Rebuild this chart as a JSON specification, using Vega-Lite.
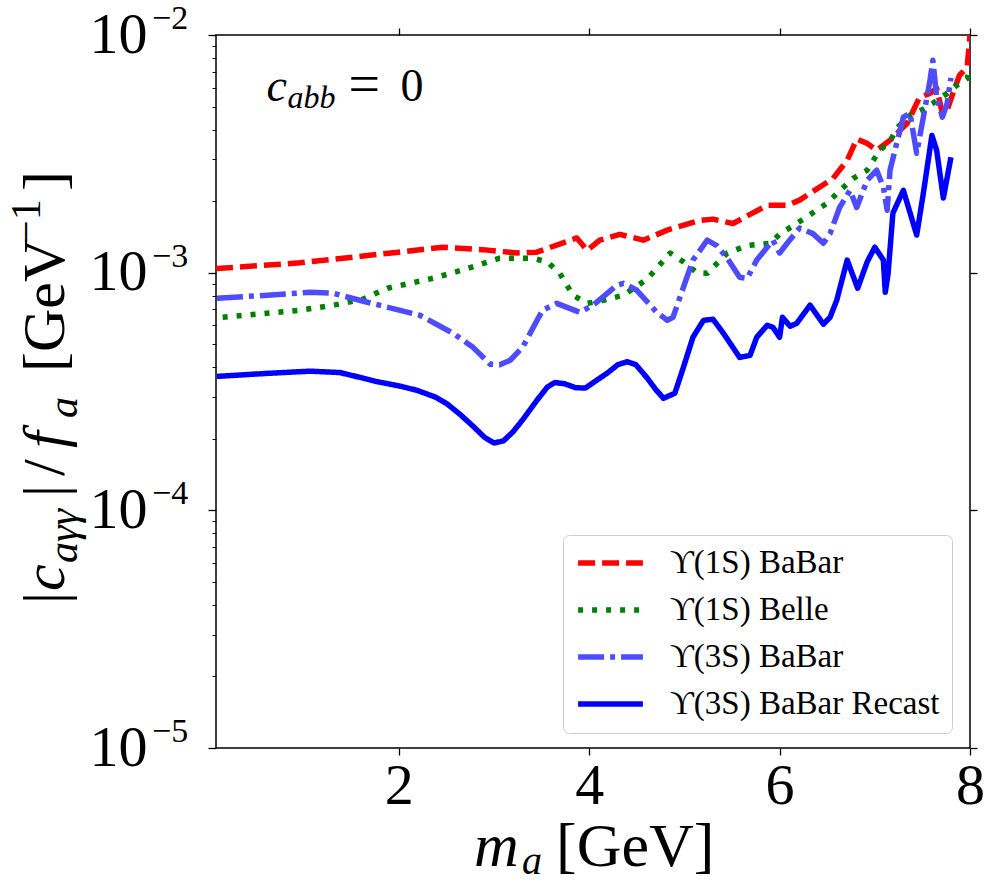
{
  "$schema": "https://vega.github.io/schema/vega-lite/v6.json",
  "width": 754,
  "height": 713,
  "autosize": {"type": "none"},
  "padding": {"left": 216, "top": 35, "right": 25, "bottom": 144},
  "background": "white",
  "config": {
    "font": "Liberation Serif",
    "view": {"stroke": "black", "strokeWidth": 1.5},
    "axis": {"grid": false, "domain": false, "tickColor": "black", "labelColor": "black", "tickWidth": 1.3}
  },
  "datasets": {
    "limits": [
      {"series": "ϒ(1S) BaBar", "m": 0.08, "c": 0.00104},
      {"series": "ϒ(1S) BaBar", "m": 0.96, "c": 0.00110},
      {"series": "ϒ(1S) BaBar", "m": 1.67, "c": 0.00118},
      {"series": "ϒ(1S) BaBar", "m": 2.0, "c": 0.00122},
      {"series": "ϒ(1S) BaBar", "m": 2.46, "c": 0.00128},
      {"series": "ϒ(1S) BaBar", "m": 2.88, "c": 0.00125},
      {"series": "ϒ(1S) BaBar", "m": 3.24, "c": 0.00121},
      {"series": "ϒ(1S) BaBar", "m": 3.45, "c": 0.00122},
      {"series": "ϒ(1S) BaBar", "m": 3.87, "c": 0.00140},
      {"series": "ϒ(1S) BaBar", "m": 3.98, "c": 0.00124},
      {"series": "ϒ(1S) BaBar", "m": 4.11, "c": 0.00137},
      {"series": "ϒ(1S) BaBar", "m": 4.32, "c": 0.00145},
      {"series": "ϒ(1S) BaBar", "m": 4.57, "c": 0.00137},
      {"series": "ϒ(1S) BaBar", "m": 4.82, "c": 0.00151},
      {"series": "ϒ(1S) BaBar", "m": 5.16, "c": 0.00166},
      {"series": "ϒ(1S) BaBar", "m": 5.30, "c": 0.00168},
      {"series": "ϒ(1S) BaBar", "m": 5.51, "c": 0.00161},
      {"series": "ϒ(1S) BaBar", "m": 5.87, "c": 0.00192},
      {"series": "ϒ(1S) BaBar", "m": 6.08, "c": 0.00192},
      {"series": "ϒ(1S) BaBar", "m": 6.21, "c": 0.00202},
      {"series": "ϒ(1S) BaBar", "m": 6.56, "c": 0.00249},
      {"series": "ϒ(1S) BaBar", "m": 6.71, "c": 0.00297},
      {"series": "ϒ(1S) BaBar", "m": 6.81, "c": 0.00365},
      {"series": "ϒ(1S) BaBar", "m": 6.92, "c": 0.00350},
      {"series": "ϒ(1S) BaBar", "m": 7.02, "c": 0.00327},
      {"series": "ϒ(1S) BaBar", "m": 7.16, "c": 0.00361},
      {"series": "ϒ(1S) BaBar", "m": 7.34, "c": 0.00425},
      {"series": "ϒ(1S) BaBar", "m": 7.47, "c": 0.00547},
      {"series": "ϒ(1S) BaBar", "m": 7.58, "c": 0.00568},
      {"series": "ϒ(1S) BaBar", "m": 7.65, "c": 0.00597},
      {"series": "ϒ(1S) BaBar", "m": 7.71, "c": 0.00468},
      {"series": "ϒ(1S) BaBar", "m": 7.76, "c": 0.00482},
      {"series": "ϒ(1S) BaBar", "m": 7.82, "c": 0.00568},
      {"series": "ϒ(1S) BaBar", "m": 7.89, "c": 0.00677},
      {"series": "ϒ(1S) BaBar", "m": 7.97, "c": 0.00731},
      {"series": "ϒ(1S) BaBar", "m": 8.0, "c": 0.0100},

      {"series": "ϒ(1S) Belle", "m": 0.15, "c": 0.000649},
      {"series": "ϒ(1S) Belle", "m": 0.96, "c": 0.000695},
      {"series": "ϒ(1S) Belle", "m": 1.31, "c": 0.000729},
      {"series": "ϒ(1S) Belle", "m": 1.62, "c": 0.000773},
      {"series": "ϒ(1S) Belle", "m": 1.88, "c": 0.000860},
      {"series": "ϒ(1S) Belle", "m": 2.36, "c": 0.000947},
      {"series": "ϒ(1S) Belle", "m": 2.72, "c": 0.00104},
      {"series": "ϒ(1S) Belle", "m": 3.06, "c": 0.00115},
      {"series": "ϒ(1S) Belle", "m": 3.41, "c": 0.00115},
      {"series": "ϒ(1S) Belle", "m": 3.56, "c": 0.00111},
      {"series": "ϒ(1S) Belle", "m": 3.69, "c": 0.000994},
      {"series": "ϒ(1S) Belle", "m": 3.83, "c": 0.000804},
      {"series": "ϒ(1S) Belle", "m": 3.98, "c": 0.000743},
      {"series": "ϒ(1S) Belle", "m": 4.15, "c": 0.000765},
      {"series": "ϒ(1S) Belle", "m": 4.36, "c": 0.000804},
      {"series": "ϒ(1S) Belle", "m": 4.61, "c": 0.000940},
      {"series": "ϒ(1S) Belle", "m": 4.85, "c": 0.00121},
      {"series": "ϒ(1S) Belle", "m": 4.99, "c": 0.00111},
      {"series": "ϒ(1S) Belle", "m": 5.13, "c": 0.00100},
      {"series": "ϒ(1S) Belle", "m": 5.24, "c": 0.000994},
      {"series": "ϒ(1S) Belle", "m": 5.45, "c": 0.00121},
      {"series": "ϒ(1S) Belle", "m": 5.66, "c": 0.00130},
      {"series": "ϒ(1S) Belle", "m": 5.90, "c": 0.00133},
      {"series": "ϒ(1S) Belle", "m": 6.00, "c": 0.00145},
      {"series": "ϒ(1S) Belle", "m": 6.25, "c": 0.00168},
      {"series": "ϒ(1S) Belle", "m": 6.50, "c": 0.00196},
      {"series": "ϒ(1S) Belle", "m": 6.60, "c": 0.00215},
      {"series": "ϒ(1S) Belle", "m": 6.77, "c": 0.00249},
      {"series": "ϒ(1S) Belle", "m": 6.92, "c": 0.00270},
      {"series": "ϒ(1S) Belle", "m": 7.05, "c": 0.00327},
      {"series": "ϒ(1S) Belle", "m": 7.16, "c": 0.00357},
      {"series": "ϒ(1S) Belle", "m": 7.23, "c": 0.00405},
      {"series": "ϒ(1S) Belle", "m": 7.37, "c": 0.00459},
      {"series": "ϒ(1S) Belle", "m": 7.51, "c": 0.00487},
      {"series": "ϒ(1S) Belle", "m": 7.61, "c": 0.00516},
      {"series": "ϒ(1S) Belle", "m": 7.76, "c": 0.00568},
      {"series": "ϒ(1S) Belle", "m": 7.86, "c": 0.00614},
      {"series": "ϒ(1S) Belle", "m": 7.97, "c": 0.00657},
      {"series": "ϒ(1S) Belle", "m": 8.0, "c": 0.00720},

      {"series": "ϒ(3S) BaBar", "m": 0.09, "c": 0.000780},
      {"series": "ϒ(3S) BaBar", "m": 0.62, "c": 0.000804},
      {"series": "ϒ(3S) BaBar", "m": 1.07, "c": 0.000827},
      {"series": "ϒ(3S) BaBar", "m": 1.31, "c": 0.000819},
      {"series": "ϒ(3S) BaBar", "m": 1.67, "c": 0.000751},
      {"series": "ϒ(3S) BaBar", "m": 2.22, "c": 0.000662},
      {"series": "ϒ(3S) BaBar", "m": 2.57, "c": 0.000556},
      {"series": "ϒ(3S) BaBar", "m": 2.78, "c": 0.000485},
      {"series": "ϒ(3S) BaBar", "m": 2.96, "c": 0.000412},
      {"series": "ϒ(3S) BaBar", "m": 3.06, "c": 0.000410},
      {"series": "ϒ(3S) BaBar", "m": 3.17, "c": 0.000428},
      {"series": "ϒ(3S) BaBar", "m": 3.30, "c": 0.000485},
      {"series": "ϒ(3S) BaBar", "m": 3.51, "c": 0.000695},
      {"series": "ϒ(3S) BaBar", "m": 3.66, "c": 0.000743},
      {"series": "ϒ(3S) BaBar", "m": 3.90, "c": 0.000681},
      {"series": "ϒ(3S) BaBar", "m": 4.04, "c": 0.000729},
      {"series": "ϒ(3S) BaBar", "m": 4.29, "c": 0.000885},
      {"series": "ϒ(3S) BaBar", "m": 4.36, "c": 0.000902},
      {"series": "ϒ(3S) BaBar", "m": 4.50, "c": 0.000843},
      {"series": "ϒ(3S) BaBar", "m": 4.71, "c": 0.000681},
      {"series": "ϒ(3S) BaBar", "m": 4.82, "c": 0.000631},
      {"series": "ϒ(3S) BaBar", "m": 4.88, "c": 0.000649},
      {"series": "ϒ(3S) BaBar", "m": 4.99, "c": 0.000868},
      {"series": "ϒ(3S) BaBar", "m": 5.09, "c": 0.00113},
      {"series": "ϒ(3S) BaBar", "m": 5.24, "c": 0.00137},
      {"series": "ϒ(3S) BaBar", "m": 5.34, "c": 0.00130},
      {"series": "ϒ(3S) BaBar", "m": 5.45, "c": 0.00115},
      {"series": "ϒ(3S) BaBar", "m": 5.58, "c": 0.000957},
      {"series": "ϒ(3S) BaBar", "m": 5.66, "c": 0.000947},
      {"series": "ϒ(3S) BaBar", "m": 5.76, "c": 0.00113},
      {"series": "ϒ(3S) BaBar", "m": 5.93, "c": 0.00137},
      {"series": "ϒ(3S) BaBar", "m": 6.00, "c": 0.00121},
      {"series": "ϒ(3S) BaBar", "m": 6.08, "c": 0.00133},
      {"series": "ϒ(3S) BaBar", "m": 6.21, "c": 0.00154},
      {"series": "ϒ(3S) BaBar", "m": 6.35, "c": 0.00146},
      {"series": "ϒ(3S) BaBar", "m": 6.46, "c": 0.00133},
      {"series": "ϒ(3S) BaBar", "m": 6.53, "c": 0.00146},
      {"series": "ϒ(3S) BaBar", "m": 6.63, "c": 0.00188},
      {"series": "ϒ(3S) BaBar", "m": 6.74, "c": 0.00222},
      {"series": "ϒ(3S) BaBar", "m": 6.81, "c": 0.00188},
      {"series": "ϒ(3S) BaBar", "m": 6.92, "c": 0.00245},
      {"series": "ϒ(3S) BaBar", "m": 7.02, "c": 0.00270},
      {"series": "ϒ(3S) BaBar", "m": 7.09, "c": 0.00229},
      {"series": "ϒ(3S) BaBar", "m": 7.13, "c": 0.00183},
      {"series": "ϒ(3S) BaBar", "m": 7.16, "c": 0.00270},
      {"series": "ϒ(3S) BaBar", "m": 7.23, "c": 0.00350},
      {"series": "ϒ(3S) BaBar", "m": 7.30, "c": 0.00451},
      {"series": "ϒ(3S) BaBar", "m": 7.37, "c": 0.00468},
      {"series": "ϒ(3S) BaBar", "m": 7.44, "c": 0.00318},
      {"series": "ϒ(3S) BaBar", "m": 7.51, "c": 0.00451},
      {"series": "ϒ(3S) BaBar", "m": 7.58, "c": 0.00645},
      {"series": "ϒ(3S) BaBar", "m": 7.61, "c": 0.00783},
      {"series": "ϒ(3S) BaBar", "m": 7.65, "c": 0.00547},
      {"series": "ϒ(3S) BaBar", "m": 7.71, "c": 0.00451},
      {"series": "ϒ(3S) BaBar", "m": 7.76, "c": 0.00516},
      {"series": "ϒ(3S) BaBar", "m": 7.80, "c": 0.00660},

      {"series": "ϒ(3S) BaBar Recast", "m": 0.09, "c": 0.000366},
      {"series": "ϒ(3S) BaBar Recast", "m": 0.62, "c": 0.000377},
      {"series": "ϒ(3S) BaBar Recast", "m": 1.07, "c": 0.000385},
      {"series": "ϒ(3S) BaBar Recast", "m": 1.38, "c": 0.000380},
      {"series": "ϒ(3S) BaBar Recast", "m": 1.60, "c": 0.000362},
      {"series": "ϒ(3S) BaBar Recast", "m": 1.77, "c": 0.000348},
      {"series": "ϒ(3S) BaBar Recast", "m": 2.00, "c": 0.000334},
      {"series": "ϒ(3S) BaBar Recast", "m": 2.19, "c": 0.000320},
      {"series": "ϒ(3S) BaBar Recast", "m": 2.38, "c": 0.000300},
      {"series": "ϒ(3S) BaBar Recast", "m": 2.51, "c": 0.000280},
      {"series": "ϒ(3S) BaBar Recast", "m": 2.65, "c": 0.000252},
      {"series": "ϒ(3S) BaBar Recast", "m": 2.78, "c": 0.000226},
      {"series": "ϒ(3S) BaBar Recast", "m": 2.90, "c": 0.000203},
      {"series": "ϒ(3S) BaBar Recast", "m": 3.00, "c": 0.000192},
      {"series": "ϒ(3S) BaBar Recast", "m": 3.10, "c": 0.000196},
      {"series": "ϒ(3S) BaBar Recast", "m": 3.20, "c": 0.000214},
      {"series": "ϒ(3S) BaBar Recast", "m": 3.30, "c": 0.000240},
      {"series": "ϒ(3S) BaBar Recast", "m": 3.45, "c": 0.000290},
      {"series": "ϒ(3S) BaBar Recast", "m": 3.56, "c": 0.000330},
      {"series": "ϒ(3S) BaBar Recast", "m": 3.64, "c": 0.000345},
      {"series": "ϒ(3S) BaBar Recast", "m": 3.74, "c": 0.000341},
      {"series": "ϒ(3S) BaBar Recast", "m": 3.86, "c": 0.000328},
      {"series": "ϒ(3S) BaBar Recast", "m": 3.96, "c": 0.000327},
      {"series": "ϒ(3S) BaBar Recast", "m": 4.08, "c": 0.000353},
      {"series": "ϒ(3S) BaBar Recast", "m": 4.19, "c": 0.000378},
      {"series": "ϒ(3S) BaBar Recast", "m": 4.30, "c": 0.000410},
      {"series": "ϒ(3S) BaBar Recast", "m": 4.40, "c": 0.000422},
      {"series": "ϒ(3S) BaBar Recast", "m": 4.49, "c": 0.000410},
      {"series": "ϒ(3S) BaBar Recast", "m": 4.61, "c": 0.000360},
      {"series": "ϒ(3S) BaBar Recast", "m": 4.70, "c": 0.000322},
      {"series": "ϒ(3S) BaBar Recast", "m": 4.78, "c": 0.000296},
      {"series": "ϒ(3S) BaBar Recast", "m": 4.90, "c": 0.000311},
      {"series": "ϒ(3S) BaBar Recast", "m": 4.99, "c": 0.000400},
      {"series": "ϒ(3S) BaBar Recast", "m": 5.09, "c": 0.000535},
      {"series": "ϒ(3S) BaBar Recast", "m": 5.20, "c": 0.000630},
      {"series": "ϒ(3S) BaBar Recast", "m": 5.30, "c": 0.000637},
      {"series": "ϒ(3S) BaBar Recast", "m": 5.41, "c": 0.000556},
      {"series": "ϒ(3S) BaBar Recast", "m": 5.58, "c": 0.000440},
      {"series": "ϒ(3S) BaBar Recast", "m": 5.69, "c": 0.000449},
      {"series": "ϒ(3S) BaBar Recast", "m": 5.76, "c": 0.000535},
      {"series": "ϒ(3S) BaBar Recast", "m": 5.87, "c": 0.000601},
      {"series": "ϒ(3S) BaBar Recast", "m": 5.93, "c": 0.000589},
      {"series": "ϒ(3S) BaBar Recast", "m": 6.00, "c": 0.000535},
      {"series": "ϒ(3S) BaBar Recast", "m": 6.03, "c": 0.000649},
      {"series": "ϒ(3S) BaBar Recast", "m": 6.11, "c": 0.000595},
      {"series": "ϒ(3S) BaBar Recast", "m": 6.18, "c": 0.000612},
      {"series": "ϒ(3S) BaBar Recast", "m": 6.32, "c": 0.000730},
      {"series": "ϒ(3S) BaBar Recast", "m": 6.46, "c": 0.000607},
      {"series": "ϒ(3S) BaBar Recast", "m": 6.53, "c": 0.000649},
      {"series": "ϒ(3S) BaBar Recast", "m": 6.60, "c": 0.000765},
      {"series": "ϒ(3S) BaBar Recast", "m": 6.71, "c": 0.00113},
      {"series": "ϒ(3S) BaBar Recast", "m": 6.82, "c": 0.000860},
      {"series": "ϒ(3S) BaBar Recast", "m": 6.92, "c": 0.00111},
      {"series": "ϒ(3S) BaBar Recast", "m": 7.00, "c": 0.00128},
      {"series": "ϒ(3S) BaBar Recast", "m": 7.09, "c": 0.00113},
      {"series": "ϒ(3S) BaBar Recast", "m": 7.11, "c": 0.000827},
      {"series": "ϒ(3S) BaBar Recast", "m": 7.14, "c": 0.000994},
      {"series": "ϒ(3S) BaBar Recast", "m": 7.19, "c": 0.00178},
      {"series": "ϒ(3S) BaBar Recast", "m": 7.30, "c": 0.00222},
      {"series": "ϒ(3S) BaBar Recast", "m": 7.44, "c": 0.00144},
      {"series": "ϒ(3S) BaBar Recast", "m": 7.51, "c": 0.00216},
      {"series": "ϒ(3S) BaBar Recast", "m": 7.60, "c": 0.00378},
      {"series": "ϒ(3S) BaBar Recast", "m": 7.65, "c": 0.00327},
      {"series": "ϒ(3S) BaBar Recast", "m": 7.72, "c": 0.00206},
      {"series": "ϒ(3S) BaBar Recast", "m": 7.80, "c": 0.00306}
    ],
    "decades": [
      {"tick": 0.01, "exp": "−2"},
      {"tick": 0.001, "exp": "−3"},
      {"tick": 0.0001, "exp": "−4"},
      {"tick": 0.00001, "exp": "−5"}
    ],
    "single": [{}]
  },
  "layer": [
    {
      "data": {"name": "limits"},
      "mark": {"type": "line", "clip": true, "strokeCap": "butt", "strokeJoin": "round"},
      "encoding": {
        "x": {
          "field": "m", "type": "quantitative",
          "scale": {"domain": [0.08, 8], "nice": false, "zero": false},
          "axis": {"orient": "bottom", "values": [2, 4, 6, 8], "title": null, "tickSize": 7,
                   "labelFontSize": 58, "labelPadding": 2, "labelFlush": false, "labelOverlap": false}
        },
        "y": {
          "field": "c", "type": "quantitative",
          "scale": {"type": "log", "domain": [0.00001, 0.01], "nice": false},
          "axis": {"orient": "left", "values": [0.00001, 0.0001, 0.001, 0.01], "title": null, "tickSize": 8,
                   "labelExpr": "'10'", "labelFontSize": 58, "labelPadding": 61, "labelAlign": "right",
                   "labelBaseline": "middle", "labelOverlap": false, "labelBound": false, "labelFlush": false}
        },
        "color": {
          "field": "series", "type": "nominal",
          "scale": {"domain": ["ϒ(1S) BaBar", "ϒ(1S) Belle", "ϒ(3S) BaBar", "ϒ(3S) BaBar Recast"],
                    "range": ["#ff0000", "#008000", "#4d4dff", "#0000ff"]},
          "legend": {"orient": "none", "legendX": 347, "legendY": 500, "title": null, "padding": 12,
                     "fillColor": "white", "strokeColor": "#cccccc", "cornerRadius": 6,
                     "symbolType": "stroke", "symbolSize": 4200, "labelFontSize": 33, "labelOffset": 24,
                     "clipHeight": 32, "rowPadding": 14, "labelLimit": 500, "labelColor": "black"}
        },
        "strokeDash": {
          "field": "series", "type": "nominal",
          "scale": {"domain": ["ϒ(1S) BaBar", "ϒ(1S) Belle", "ϒ(3S) BaBar", "ϒ(3S) BaBar Recast"],
                    "range": [[17, 7], [5, 9], [26, 6, 5, 6], [1, 0]]}
        },
        "strokeWidth": {
          "field": "series", "type": "nominal",
          "scale": {"domain": ["ϒ(1S) BaBar", "ϒ(1S) Belle", "ϒ(3S) BaBar", "ϒ(3S) BaBar Recast"],
                    "range": [5.5, 5.5, 4.5, 6.5]}
        }
      }
    },
    {
      "data": {"name": "decades"},
      "mark": {"type": "text", "align": "left", "baseline": "middle", "dx": -64, "dy": -16, "fontSize": 34, "color": "black"},
      "encoding": {
        "x": {"datum": 0.08, "type": "quantitative",
              "axis": {"orient": "top", "values": [2, 4, 6, 8], "labels": false, "title": null, "tickSize": 7}},
        "y": {"field": "tick", "type": "quantitative",
              "axis": {"orient": "right", "values": [0.00001, 0.0001, 0.001, 0.01], "labels": false, "title": null, "tickSize": 7}},
        "text": {"field": "exp"}
      }
    },
    {
      "data": {"name": "single"},
      "mark": {"type": "text", "align": "left", "baseline": "alphabetic", "dx": 1, "fontSize": 46, "fontStyle": "italic", "text": "c", "color": "black"},
      "encoding": {
        "x": {"datum": 0.6, "type": "quantitative", "axis": null},
        "y": {"datum": 0.0053, "type": "quantitative",
              "axis": {"orient": "left", "labels": false, "title": null, "tickSize": 4, "tickWidth": 1,
                       "values": [0.00002, 0.00003, 0.00004, 0.00005, 0.00006, 0.00007, 0.00008, 0.00009,
                                  0.0002, 0.0003, 0.0004, 0.0005, 0.0006, 0.0007, 0.0008, 0.0009,
                                  0.002, 0.003, 0.004, 0.005, 0.006, 0.007, 0.008, 0.009]}}
      }
    },
    {
      "data": {"name": "single"},
      "mark": {"type": "text", "align": "left", "baseline": "alphabetic", "dx": 22, "dy": 7, "fontSize": 32, "fontStyle": "italic", "text": "abb", "color": "black"},
      "encoding": {"x": {"datum": 0.6, "type": "quantitative", "axis": null}, "y": {"datum": 0.0053, "type": "quantitative", "axis": null}}
    },
    {
      "data": {"name": "single"},
      "mark": {"type": "text", "align": "left", "baseline": "alphabetic", "dx": 83, "dy": 2, "fontSize": 56, "text": "=", "color": "black"},
      "encoding": {"x": {"datum": 0.6, "type": "quantitative", "axis": null}, "y": {"datum": 0.0053, "type": "quantitative", "axis": null}}
    },
    {
      "data": {"name": "single"},
      "mark": {"type": "text", "align": "left", "baseline": "alphabetic", "dx": 135, "fontSize": 46, "text": "0", "color": "black"},
      "encoding": {"x": {"datum": 0.6, "type": "quantitative", "axis": null}, "y": {"datum": 0.0053, "type": "quantitative", "axis": null}}
    },
    {
      "data": {"name": "single"},
      "mark": {"type": "text", "align": "left", "baseline": "alphabetic", "dx": 258, "dy": 118, "fontSize": 62, "fontStyle": "italic", "text": "m", "color": "black"},
      "encoding": {"x": {"datum": 0.08, "type": "quantitative", "axis": null}, "y": {"datum": 0.00001, "type": "quantitative", "axis": null}}
    },
    {
      "data": {"name": "single"},
      "mark": {"type": "text", "align": "left", "baseline": "alphabetic", "dx": 306, "dy": 126, "fontSize": 40, "fontStyle": "italic", "text": "a", "color": "black"},
      "encoding": {"x": {"datum": 0.08, "type": "quantitative", "axis": null}, "y": {"datum": 0.00001, "type": "quantitative", "axis": null}}
    },
    {
      "data": {"name": "single"},
      "mark": {"type": "text", "align": "left", "baseline": "alphabetic", "dx": 340, "dy": 118, "fontSize": 62, "text": "[GeV]", "color": "black"},
      "encoding": {"x": {"datum": 0.08, "type": "quantitative", "axis": null}, "y": {"datum": 0.00001, "type": "quantitative", "axis": null}}
    },
    {
      "data": {"name": "single"},
      "mark": {"type": "text", "align": "left", "baseline": "alphabetic", "angle": 270, "dx": -212.5, "dy": -152, "fontSize": 60, "text": "|", "color": "black"},
      "encoding": {"x": {"datum": 0.08, "type": "quantitative", "axis": null}, "y": {"datum": 0.000316228, "type": "quantitative", "axis": null}}
    },
    {
      "data": {"name": "single"},
      "mark": {"type": "text", "align": "left", "baseline": "alphabetic", "angle": 270, "dx": -199.5, "dy": -152, "fontSize": 60, "fontStyle": "italic", "text": "c", "color": "black"},
      "encoding": {"x": {"datum": 0.08, "type": "quantitative", "axis": null}, "y": {"datum": 0.000316228, "type": "quantitative", "axis": null}}
    },
    {
      "data": {"name": "single"},
      "mark": {"type": "text", "align": "left", "baseline": "alphabetic", "angle": 270, "dx": -171.5, "dy": -139, "fontSize": 42, "fontStyle": "italic", "text": "aγγ", "color": "black"},
      "encoding": {"x": {"datum": 0.08, "type": "quantitative", "axis": null}, "y": {"datum": 0.000316228, "type": "quantitative", "axis": null}}
    },
    {
      "data": {"name": "single"},
      "mark": {"type": "text", "align": "left", "baseline": "alphabetic", "angle": 270, "dx": -105.5, "dy": -152, "fontSize": 60, "text": "|", "color": "black"},
      "encoding": {"x": {"datum": 0.08, "type": "quantitative", "axis": null}, "y": {"datum": 0.000316228, "type": "quantitative", "axis": null}}
    },
    {
      "data": {"name": "single"},
      "mark": {"type": "text", "align": "left", "baseline": "alphabetic", "angle": 270, "dx": -84.5, "dy": -152, "fontSize": 60, "text": "/", "color": "black"},
      "encoding": {"x": {"datum": 0.08, "type": "quantitative", "axis": null}, "y": {"datum": 0.000316228, "type": "quantitative", "axis": null}}
    },
    {
      "data": {"name": "single"},
      "mark": {"type": "text", "align": "left", "baseline": "alphabetic", "angle": 270, "dx": -56.5, "dy": -152, "fontSize": 60, "fontStyle": "italic", "text": "f", "color": "black"},
      "encoding": {"x": {"datum": 0.08, "type": "quantitative", "axis": null}, "y": {"datum": 0.000316228, "type": "quantitative", "axis": null}}
    },
    {
      "data": {"name": "single"},
      "mark": {"type": "text", "align": "left", "baseline": "alphabetic", "angle": 270, "dx": -26.5, "dy": -139, "fontSize": 42, "fontStyle": "italic", "text": "a", "color": "black"},
      "encoding": {"x": {"datum": 0.08, "type": "quantitative", "axis": null}, "y": {"datum": 0.000316228, "type": "quantitative", "axis": null}}
    },
    {
      "data": {"name": "single"},
      "mark": {"type": "text", "align": "left", "baseline": "alphabetic", "angle": 270, "dx": 19.5, "dy": -152, "fontSize": 60, "text": "[GeV", "color": "black"},
      "encoding": {"x": {"datum": 0.08, "type": "quantitative", "axis": null}, "y": {"datum": 0.000316228, "type": "quantitative", "axis": null}}
    },
    {
      "data": {"name": "single"},
      "mark": {"type": "text", "align": "left", "baseline": "alphabetic", "angle": 270, "dx": 147.5, "dy": -176, "fontSize": 42, "text": "−1", "color": "black"},
      "encoding": {"x": {"datum": 0.08, "type": "quantitative", "axis": null}, "y": {"datum": 0.000316228, "type": "quantitative", "axis": null}}
    },
    {
      "data": {"name": "single"},
      "mark": {"type": "text", "align": "left", "baseline": "alphabetic", "angle": 270, "dx": 200.5, "dy": -152, "fontSize": 60, "text": "]", "color": "black"},
      "encoding": {"x": {"datum": 0.08, "type": "quantitative", "axis": null}, "y": {"datum": 0.000316228, "type": "quantitative", "axis": null}}
    }
  ],
  "resolve": {"axis": {"x": "independent", "y": "independent"}}
}
